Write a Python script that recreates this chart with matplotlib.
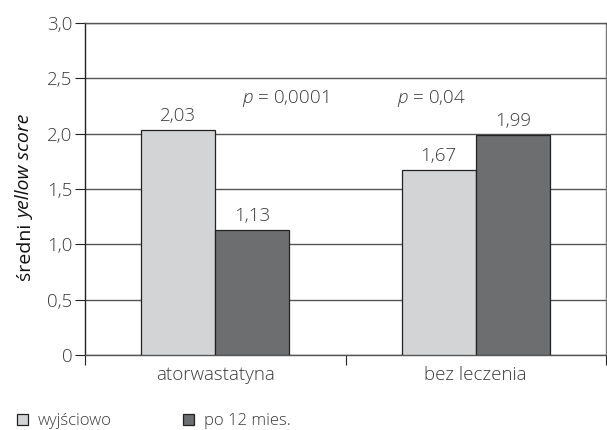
import numpy as np
import matplotlib.pyplot as plt

categories = ['atorwastatyna', 'bez leczenia']
baseline = [2.03, 1.67]
after_12 = [1.13, 1.99]
baseline_labels = ['2,03', '1,67']
after_labels = ['1,13', '1,99']
p_labels = ['0,0001', '0,04']
series_names = ['wyjściowo', 'po 12 mies.']
yticks = [0, 0.5, 1.0, 1.5, 2.0, 2.5, 3.0]
ytick_labels = ['0', '0,5', '1,0', '1,5', '2,0', '2,5', '3,0']

plt.rcParams['font.family'] = ['Open Sans', 'DejaVu Sans']
plt.rcParams['font.weight'] = 'light'
plt.rcParams['mathtext.fontset'] = 'custom'
plt.rcParams['mathtext.it'] = 'Open Sans:italic'
txt = '#3a3a3a'
light = '#d3d4d6'
dark = '#6d6e70'
fs = 13.5

fig = plt.figure(figsize=(6.07, 4.30), dpi=100)
ax = fig.add_axes([85 / 607, 1 - 355 / 430, 521 / 607, 332 / 430])

x = np.arange(len(categories))
w = 0.284
b1 = ax.bar(x - w / 2, baseline, w, color=light, edgecolor='#222222', linewidth=0.9, zorder=3)
b2 = ax.bar(x + w / 2, after_12, w, color=dark, edgecolor='#222222', linewidth=0.9, zorder=3)

for xi, v, lab in zip(x - w / 2, baseline, baseline_labels):
    ax.text(xi, v + 0.08, lab, ha='center', va='baseline', fontsize=fs, color=txt)
for xi, v, lab in zip(x + w / 2, after_12, after_labels):
    ax.text(xi, v + 0.08, lab, ha='center', va='baseline', fontsize=fs, color=txt)

# p values
for xi, p in zip([0.27, 0.83], p_labels):
    ax.text(xi, 2.28, '$p$ = ' + p, ha='center', va='baseline', fontsize=fs, color=txt)

ax.set_xlim(-0.5, 1.5)
ax.set_ylim(0, 3.0)
ax.set_yticks(yticks)
ax.set_yticklabels(ytick_labels, fontsize=fs, color=txt)
ax.yaxis.grid(True, color='#555555', linewidth=1.0, zorder=0)
ax.set_axisbelow(True)

ax.set_xticks([-0.5, 0.5, 1.5], minor=False)
ax.set_xticklabels([])
ax.set_xticks(x, minor=True)
ax.set_xticklabels(categories, minor=True, fontsize=fs, color=txt)
ax.tick_params(axis='x', which='major', direction='out', length=7, color='#222222')
ax.tick_params(axis='x', which='minor', length=0, pad=8)
ax.tick_params(axis='y', direction='out', length=7, color='#222222', pad=2)

ax.spines['left'].set_color('#222222')
ax.spines['bottom'].set_color('#555555')
ax.spines['right'].set_color('#777777')
ax.spines['top'].set_color('#555555')
for s in ax.spines.values():
    s.set_linewidth(1.0)

# y label: "średni" upright, "yellow score" italic
fig.text(26 / 607, 1 - 219 / 430, 'średni ', rotation=90, ha='center', va='top',
         fontsize=14, color='#111111', weight='normal')
fig.text(26 / 607, 1 - 219 / 430, 'yellow score', rotation=90, ha='center', va='bottom',
         fontsize=14, color='#111111', style='italic', weight='normal')

# legend
leg = fig.legend([b1, b2], series_names, loc='center left',
                 bbox_to_anchor=(0.003, 1 - 421 / 430),
                 ncol=2, frameon=False, fontsize=12, handlelength=0.65, handleheight=0.65,
                 columnspacing=4.3, handletextpad=0.6)
for t in leg.get_texts():
    t.set_color(txt)

plt.savefig('out.png', dpi=100, facecolor='white')
